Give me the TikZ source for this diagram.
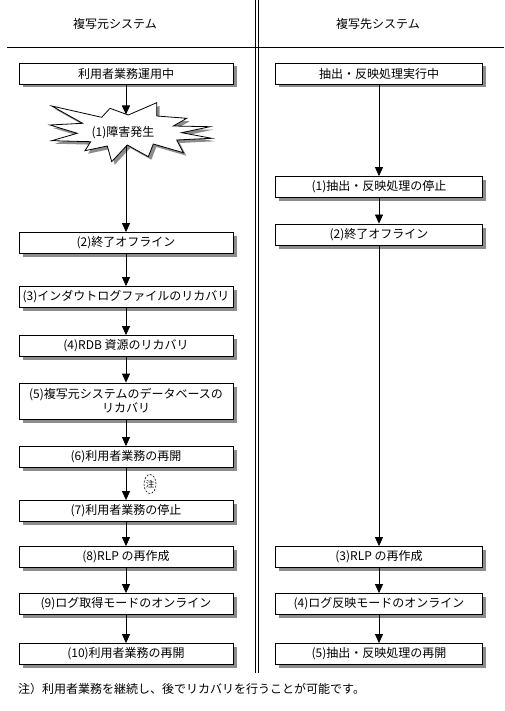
\documentclass[tikz,border=0pt]{standalone}
\usepackage{fontspec}
\setmainfont{Noto Sans CJK JP}
\usetikzlibrary{arrows.meta,shadows,shapes.geometric}
\begin{document}
\begin{tikzpicture}[x=1pt,y=-1pt,
  font=\fontsize{12}{14}\selectfont,
  procbox/.style={draw, line width=0.8pt, fill=white, inner sep=0pt,
    minimum height=21pt, align=center,
    drop shadow={shadow xshift=3.5pt, shadow yshift=-3.5pt, fill=black!45, opacity=1}},
  lbox/.style={procbox, minimum width=214pt},
  rbox/.style={procbox, minimum width=207pt},
  arr/.style={line width=0.8pt, -{Triangle[width=8pt,length=9pt]}},
  plain/.style={line width=0.8pt}]
\useasboundingbox (0,0) rectangle (504,711);
% frame lines
\coordinate (vt1) at (255,0); \coordinate (vb1) at (255,673);
\coordinate (vt2) at (258.5,0); \coordinate (vb2) at (258.5,673);
\coordinate (hl) at (7,47); \coordinate (hr) at (504,47);
\draw[plain] (vt1) -- (vb1);
\draw[plain] (vt2) -- (vb2);
\draw[plain] (hl) -- (hr);
% headers
\node (hleft) at (115,24) {複写元システム};
\node (hright) at (378,24) {複写先システム};
% left column
\node[lbox] (l1) at (126,73.5) {利用者業務運用中};
% starburst
\begin{scope}[shift={(3,3)}]
\fill[black!45] (51.7,106) -- (101.7,117.3) -- (110,108.3) -- (128.3,115) -- (156.7,102.7) -- (156.7,116) -- (186.7,118.3) -- (173.3,126) -- (210,126.7) -- (181.7,132.7) -- (211.7,138.3) -- (176.7,140) -- (183.3,152.7) -- (153.3,144) -- (148.3,156.7) -- (127.3,145) -- (111.7,161.7) -- (107.3,146) -- (85,150.7) -- (90.7,141.7) -- (51.7,140.7) -- (77.3,133.3) -- (50,125) -- (82.7,123.3) -- cycle;
\end{scope}
\draw[line width=0.8pt, fill=white] (51.7,106) -- (101.7,117.3) -- (110,108.3) -- (128.3,115) -- (156.7,102.7) -- (156.7,116) -- (186.7,118.3) -- (173.3,126) -- (210,126.7) -- (181.7,132.7) -- (211.7,138.3) -- (176.7,140) -- (183.3,152.7) -- (153.3,144) -- (148.3,156.7) -- (127.3,145) -- (111.7,161.7) -- (107.3,146) -- (85,150.7) -- (90.7,141.7) -- (51.7,140.7) -- (77.3,133.3) -- (50,125) -- (82.7,123.3) -- cycle;
\node (burst) at (123,133) {(1)障害発生};
\coordinate (bursttop) at (126,114.5);
\coordinate (burstbot) at (126,145.5);
\node[lbox] (l2) at (126,243) {(2)終了オフライン};
\node[lbox] (l3) at (126,297) {(3)インダウトログファイルのリカバリ};
\node[lbox] (l4) at (126,346) {(4)RDB 資源のリカバリ};
\node[lbox, minimum height=36pt] (l5) at (126,401) {(5)複写元システムのデータベースの\\リカバリ};
\node[lbox] (l6) at (126,457) {(6)利用者業務の再開};
\node[lbox] (l7) at (126,511) {(7)利用者業務の停止};
\node[lbox] (l8) at (126,557) {(8)RLP の再作成};
\node[lbox] (l9) at (126,604) {(9)ログ取得モードのオンライン};
\node[lbox] (l10) at (126,654) {(10)利用者業務の再開};
% note mark
\node[draw, dashed, dash pattern=on 2pt off 1.5pt, line width=0.6pt, ellipse, inner sep=0pt,
  minimum width=11pt, minimum height=19pt, font=\fontsize{8.5}{10}\selectfont] (note) at (150,484) {注};
% left arrows
\draw[arr] (l1) -- (bursttop);
\draw[arr] (burstbot) -- (l2);
\draw[arr] (l2) -- (l3);
\draw[arr] (l3) -- (l4);
\draw[arr] (l4) -- (l5);
\draw[arr] (l5) -- (l6);
\draw[arr] (l6) -- (l7);
\draw[arr] (l7) -- (l8);
\draw[arr] (l8) -- (l9);
\draw[arr] (l9) -- (l10);
% right column
\node[rbox] (r0) at (379,73.5) {抽出・反映処理実行中};
\node[rbox] (r1) at (379,187) {(1)抽出・反映処理の停止};
\node[rbox] (r2) at (379,234.5) {(2)終了オフライン};
\node[rbox] (r3) at (379,557) {(3)RLP の再作成};
\node[rbox] (r4) at (379,604) {(4)ログ反映モードのオンライン};
\node[rbox] (r5) at (379,654) {(5)抽出・反映処理の再開};
\draw[arr] (r0) -- (r1);
\draw[arr] (r1) -- (r2);
\draw[arr] (r2) -- (r3);
\draw[arr] (r3) -- (r4);
\draw[arr] (r4) -- (r5);
% footnote
\node[anchor=west, inner sep=0pt] (foot) at (18,689) {注）利用者業務を継続し、後でリカバリを行うことが可能です。};
\end{tikzpicture}
\end{document}
